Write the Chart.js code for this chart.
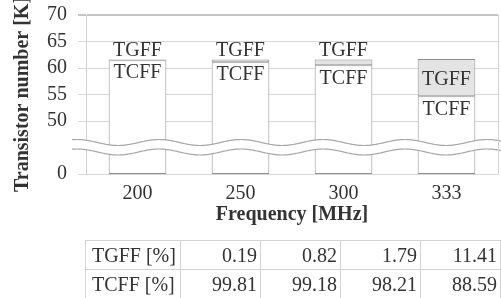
<!DOCTYPE html>
<html>
<head>
<meta charset="utf-8">
<script src="https://cdn.jsdelivr.net/npm/chart.js@4"></script>
<style>
    html, body { margin: 0; padding: 0; background: #fff; }
    #wrap { position: relative; width: 501px; height: 298px; overflow: hidden; }
    #chart { position: absolute; left: 0; top: 0; }
    #ratioTable {
        position: absolute; left: 85px; top: 240px; width: 415px;
        border-collapse: collapse; table-layout: fixed;
        font-family: 'Liberation Serif', 'Times New Roman', serif; font-size: 20px; color: #333;
    }
    #ratioTable td { border: 1px solid #d2d2d2; height: 28px; padding: 0 3px 0 0; text-align: right; line-height: 20px; }
    #ratioTable td.lbl { text-align: left; padding: 0 0 0 6px; }
</style>
</head>
<body>
<div id="wrap">
    <canvas id="chart" width="501" height="298"></canvas>
    <table id="ratioTable">
        <colgroup><col style="width:95px"><col style="width:80px"><col style="width:80px"><col style="width:80px"><col style="width:80px"></colgroup>
        <tbody></tbody>
    </table>
</div>
<script>
// ===========================
// Data
// ===========================
const frequencies = ['200', '250', '300', '333'];
const totalK = [61.6, 61.6, 61.6, 61.7];          // transistor count per design [K]
const tgffPct = [0.19, 0.82, 1.79, 11.41];
const tcffPct = [99.81, 99.18, 98.21, 88.59];
const yTickValues = [0, 50, 55, 60, 65, 70];

const FONT = "'Liberation Serif', 'Times New Roman', serif";
const TEXT = '#333333';

// broken axis: 0..50 is squeezed into 40..50 axis units
function toAxis(v) {
    return v >= 50 ? v : 40 + v / 5;
}

const tcffK = totalK.map((t, i) => t * tcffPct[i] / 100);

// ===========================
// Table under the chart
// ===========================
const tbody = document.querySelector('#ratioTable tbody');
[['TGFF [%]', tgffPct], ['TCFF [%]', tcffPct]].forEach(([name, vals]) => {
    const tr = document.createElement('tr');
    tr.innerHTML = `<td class="lbl">${name}</td>` + vals.map(v => `<td>${v.toFixed(2)}</td>`).join('');
    tbody.appendChild(tr);
});

// ===========================
// Plugins
// ===========================
const breakPlugin = {
    id: 'axisBreak',
    afterDatasetsDraw(chart) {
        const ctx = chart.ctx;
        const area = chart.chartArea;
        const x0 = 72, x1 = 501, period = 82, amp = 3;
        const upper = 142.5, lower = 152;
        const wave = (x, c) => c - amp * Math.cos(2 * Math.PI * (x - 77) / period);

        ctx.save();
        ctx.beginPath();
        ctx.moveTo(x0, wave(x0, upper));
        for (let x = x0; x <= x1; x++) ctx.lineTo(x, wave(x, upper));
        for (let x = x1; x >= x0; x--) ctx.lineTo(x, wave(x, lower));
        ctx.closePath();
        ctx.fillStyle = '#ffffff';
        ctx.fill();

        ctx.strokeStyle = '#a8a8a8';
        ctx.lineWidth = 1.2;
        [upper, lower].forEach(c => {
            ctx.beginPath();
            for (let x = x0; x <= x1; x++) {
                if (x === x0) ctx.moveTo(x, wave(x, c));
                else ctx.lineTo(x, wave(x, c));
            }
            ctx.stroke();
        });

        // right frame line
        ctx.strokeStyle = '#d4d4d4';
        ctx.lineWidth = 1;
        ctx.beginPath();
        ctx.moveTo(area.right + 0.5, area.top);
        ctx.lineTo(area.right + 0.5, area.bottom);
        ctx.stroke();
        ctx.restore();
    }
};

const segmentLabels = {
    id: 'segmentLabels',
    afterDraw(chart) {
        const ctx = chart.ctx;
        const tgffMeta = chart.getDatasetMeta(1);
        ctx.save();
        ctx.font = `20px ${FONT}`;
        ctx.fillStyle = TEXT;
        ctx.textAlign = 'center';
        ctx.textBaseline = 'middle';
        tgffMeta.data.forEach(bar => {
            const top = bar.y;
            const bottom = bar.base;
            if (bottom - top > 24) {
                ctx.fillText('TGFF', bar.x, (top + bottom) / 2 + 2);
            } else {
                ctx.fillText('TGFF', bar.x, top - 9);
            }
            ctx.fillText('TCFF', bar.x, bottom + 13);
        });
        ctx.restore();
    }
};

// ===========================
// Chart
// ===========================
new Chart(document.getElementById('chart'), {
    type: 'bar',
    data: {
        labels: frequencies,
        datasets: [{
            label: 'TCFF',
            data: tcffK.map(v => [toAxis(0), toAxis(v)]),
            backgroundColor: '#ffffff',
            borderColor: '#8e8e8e',
            borderWidth: 1,
            borderSkipped: false,
            grouped: false,
            barPercentage: 0.56,
            categoryPercentage: 1
        }, {
            label: 'TGFF',
            data: tcffK.map((v, i) => [toAxis(v), toAxis(totalK[i])]),
            backgroundColor: '#e4e4e4',
            borderColor: '#8e8e8e',
            borderWidth: 1,
            borderSkipped: false,
            grouped: false,
            barPercentage: 0.56,
            categoryPercentage: 1
        }]
    },
    options: {
        responsive: false,
        animation: false,
        layout: {
            padding: { top: 15, right: 3, left: 0, bottom: 68 }
        },
        plugins: {
            legend: { display: false },
            tooltip: { enabled: false }
        },
        scales: {
            x: {
                afterFit: scale => { scale.height = 56; },
                grid: { display: false, drawTicks: false },
                border: { display: false },
                ticks: {
                    color: TEXT,
                    padding: 8,
                    font: { family: FONT, size: 20 }
                },
                title: {
                    display: true,
                    text: 'Frequency [MHz]',
                    color: TEXT,
                    padding: { top: 0, bottom: 3 },
                    font: { family: FONT, size: 20, weight: 'bold' }
                }
            },
            y: {
                min: toAxis(0),
                max: 70,
                afterFit: scale => {
                    scale.width = 86;
                    scale.paddingTop = 0;
                    scale.paddingBottom = 0;
                },
                afterBuildTicks: scale => {
                    scale.ticks = yTickValues.map(v => ({ value: toAxis(v) }));
                },
                grid: {
                    color: ctx => (ctx.tick && ctx.tick.value === 70) ? '#c4c4c4' : '#d8d8d8',
                    lineWidth: ctx => (ctx.tick && ctx.tick.value === 70) ? 2 : 1,
                    tickLength: 8
                },
                border: { display: true, color: '#d0d0d0' },
                ticks: {
                    color: TEXT,
                    padding: 11,
                    font: { family: FONT, size: 20 },
                    callback: (value, index) => yTickValues[index]
                },
                title: {
                    display: true,
                    text: 'Transistor number [K]',
                    color: TEXT,
                    padding: { top: 11, bottom: 0 },
                    font: { family: FONT, size: 20, weight: 'bold' }
                }
            }
        }
    },
    plugins: [breakPlugin, segmentLabels]
});
</script>
</body>
</html>
